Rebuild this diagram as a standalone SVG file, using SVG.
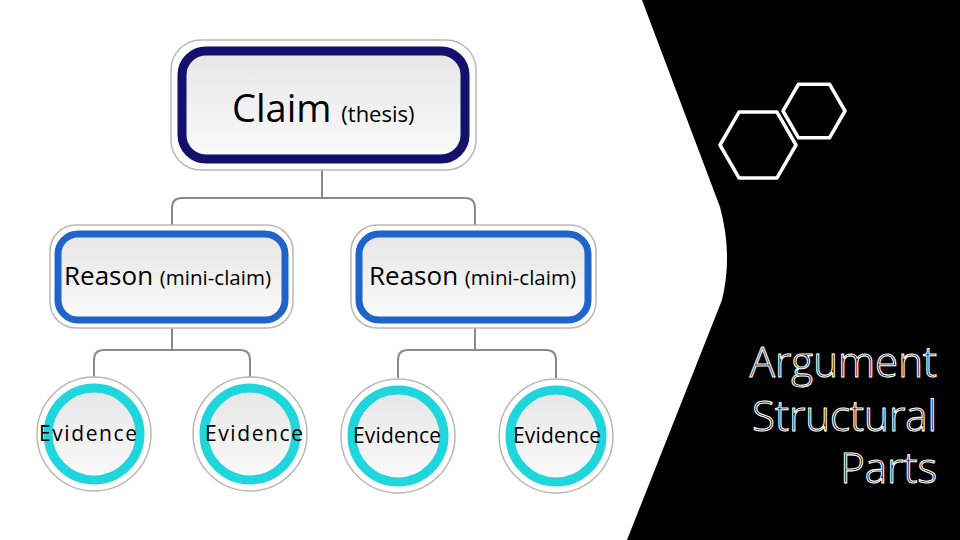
<svg xmlns="http://www.w3.org/2000/svg" width="960" height="540" viewBox="0 0 960 540">
<style>
.t{font-family:"Open Sans","Noto Sans",sans-serif;fill:#000}
.outer{fill:#fff;stroke:#b8b8b8;stroke-width:1.5}
.conn{fill:none;stroke:#8a8a8a;stroke-width:2}
.title{font-family:"Open Sans","Noto Sans",sans-serif;font-size:42px;font-weight:300;fill:#000;stroke:#fff;stroke-width:1.1;text-anchor:end}
.hex{fill:none;stroke:#fff;stroke-width:3.5;stroke-linejoin:round}
</style>
<defs>
<linearGradient id="g" x1="0" y1="0" x2="0" y2="1"><stop offset="0" stop-color="#e6e6e6"/><stop offset="1" stop-color="#fafafa"/></linearGradient>
<g id="ev"><circle r="57" class="outer"/><circle r="46" fill="url(#g)" stroke="#1fd6dc" stroke-width="9"/></g>
</defs>
<rect width="960" height="540" fill="#fff"/>
<path d="M642,0 L960,0 L960,540 L627,540 L722,300 Q733,255 720,207 Z" fill="#000"/>
<g id="connectors">
<path class="conn" d="M322,170 V198 M172,225 V208 Q172,198 182,198 H465 Q475,198 475,208 V225"/>
<path class="conn" d="M172,327 V350 M94,378 V360 Q94,350 104,350 H240 Q250,350 250,360 V378"/>
<path class="conn" d="M475,327 V350 M398,378 V360 Q398,350 408,350 H546 Q556,350 556,360 V378"/>
</g>
<g id="claim">
<rect x="171" y="40" width="305" height="130" rx="30" class="outer"/>
<rect x="182" y="51" width="283" height="108" rx="24" fill="url(#g)" stroke="#13116b" stroke-width="9"/>
<text class="t" x="232" y="122" font-size="38">Claim <tspan font-size="22">(thesis)</tspan></text>
</g>
<g id="reason1">
<rect x="50" y="225" width="243" height="103" rx="26" class="outer"/>
<rect x="58" y="234" width="227" height="86" rx="20" fill="url(#g)" stroke="#1f64c8" stroke-width="7"/>
<text class="t" x="64" y="285" font-size="26">Reason <tspan font-size="20.5">(mini-claim)</tspan></text>
</g>
<g id="reason2">
<rect x="351" y="225" width="245" height="103" rx="26" class="outer"/>
<rect x="359" y="234" width="229" height="86" rx="20" fill="url(#g)" stroke="#1f64c8" stroke-width="7"/>
<text class="t" x="369" y="285" font-size="26">Reason <tspan font-size="20.5">(mini-claim)</tspan></text>
</g>
<g id="ev1"><use href="#ev" x="94" y="434"/><text class="t" x="88" y="441" font-size="21" text-anchor="middle" textLength="98">Evidence</text></g>
<g id="ev2"><use href="#ev" x="250" y="434"/><text class="t" x="254" y="441" font-size="21" text-anchor="middle" textLength="98">Evidence</text></g>
<g id="ev3"><use href="#ev" x="398" y="436"/><text class="t" x="397" y="443" font-size="21" text-anchor="middle" textLength="88">Evidence</text></g>
<g id="ev4"><use href="#ev" x="556" y="436"/><text class="t" x="557" y="443" font-size="21" text-anchor="middle" textLength="88">Evidence</text></g>
<g id="hexagons">
<polygon class="hex" points="845,111 829.5,137.8 798.5,137.8 783,111 798.5,84.2 829.5,84.2"/>
<polygon class="hex" points="796,145 777,177.9 739,177.9 720,145 739,112.1 777,112.1"/>
</g>
<g id="title">
<text class="title" x="937" y="377">Argument</text>
<text class="title" x="937" y="431">Structural</text>
<text class="title" x="937" y="483">Parts</text>
</g>
</svg>
